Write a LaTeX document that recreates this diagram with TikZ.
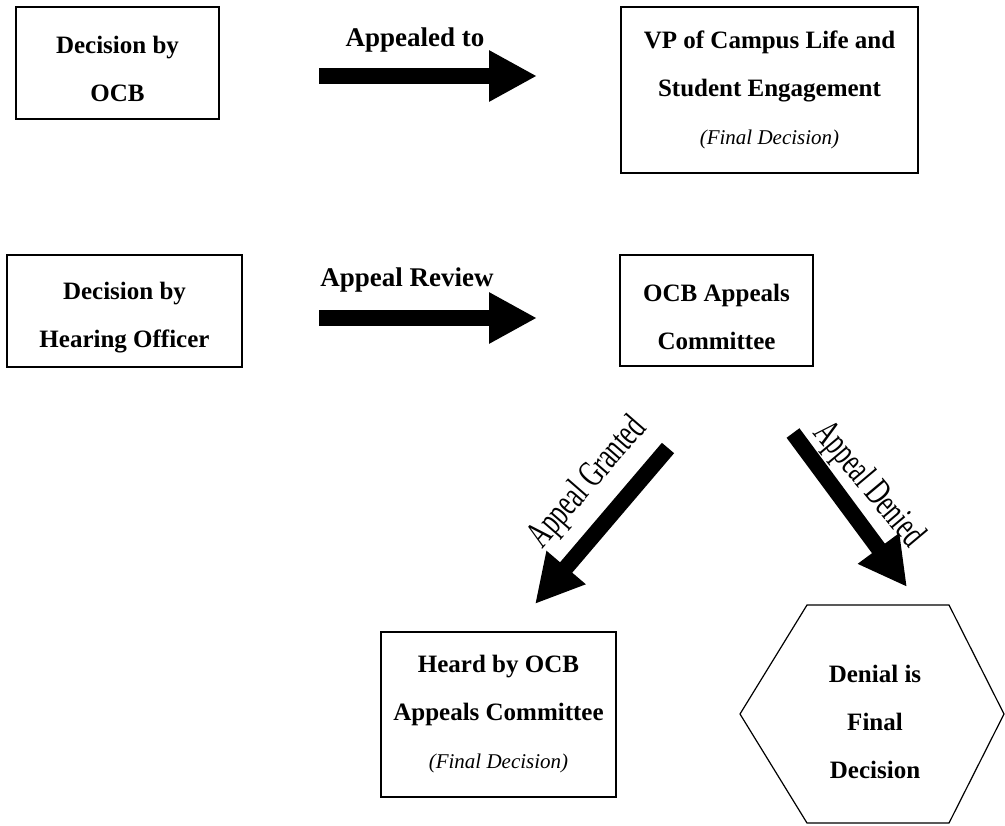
\documentclass[tikz,border=0pt]{standalone}
\usepackage{fontspec}
\setmainfont{Liberation Serif}
\usepackage{tikz}
\usetikzlibrary{arrows.meta}

\tikzset{
  box/.style={draw,line width=1pt,inner sep=0pt,align=center,
    font=\bfseries\fontsize{12.5}{24}\selectfont},
  fat/.style={line width=8pt,-{Triangle[length=24pt,width=24pt]}},
  lbl/.style={font=\bfseries\fontsize{13.5}{16}\selectfont},
  slant/.style={font=\fontsize{19}{19}\selectfont,xscale=.66,inner sep=1pt},
}
\newcommand{\finaldec}{{\mdseries\itshape\fontsize{10.5}{24}\selectfont (Final Decision)}}
\newcommand{\toppad}{\rule{0pt}{15pt}}

\begin{document}
\begin{tikzpicture}[x=.5pt,y=-.5pt]
\useasboundingbox (0,0) rectangle (1005,825);
\node[box,minimum width=101.5pt,minimum height=56pt] (ocb) at (117.5,63) {\toppad Decision by\\OCB};
\node[box,minimum width=148.5pt,minimum height=83pt] (vp) at (769.5,90) {VP of Campus Life and\\Student Engagement\\\finaldec};
\node[box,minimum width=117.5pt,minimum height=56pt] (hear) at (124.5,311) {\toppad Decision by\\Hearing Officer};
\node[box,minimum width=96.5pt,minimum height=55.5pt] (cmte) at (716.5,310.5) {\toppad OCB Appeals\\Committee};
\node[box,minimum width=117.5pt,minimum height=82.5pt] (heard) at (498.5,714.5) {Heard by OCB\\Appeals Committee\\\finaldec};
\node[box,draw=none] (deny) at (875,722) {Denial is\\Final\\Decision};
\draw[line width=.6pt] ([shift={(-135,-8)}]deny.center) -- ++(67,-109) -- ++(142,0)
  -- ++(55,109) -- ++(-55,109) -- ++(-142,0) -- cycle;
\node[lbl] (t1) at (415,40) {Appealed to};
\node[lbl] (t2) at (407,280) {Appeal Review};
\node[rotate=49,slant] (t3) at (588,483) {Appeal Granted};
\node[rotate=-50,slant] (t4) at (868,485) {Appeal Denied};
\coordinate (a1) at (319,76);  \coordinate (b1) at (537,76);
\coordinate (a2) at (319,318); \coordinate (b2) at (537,318);
\coordinate (a3) at (668,448); \coordinate (b3) at (535,604);
\coordinate (a4) at (793,433); \coordinate (b4) at (907,587);
\foreach \from/\to in {a1/b1,a2/b2,a3/b3,a4/b4}
\draw[fat] (\from) -- (\to);
\end{tikzpicture}
\end{document}
